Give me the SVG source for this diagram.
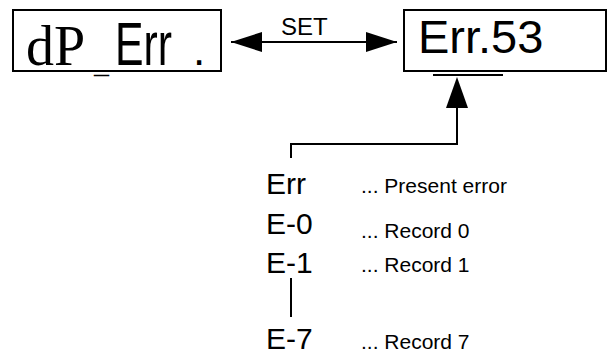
<svg xmlns="http://www.w3.org/2000/svg" width="610" height="354" viewBox="0 0 610 354">
<style>
.box{fill:#fff;stroke:#000;stroke-width:2}
.ln{fill:none;stroke:#000;stroke-width:2}
.sans{font-family:"Liberation Sans",Arial,sans-serif;fill:#000}
.serif{font-family:"Liberation Serif","Times New Roman",serif;fill:#000}
.big{font-size:30px}
.small{font-size:21px}
</style>
<defs>
<marker id="ah" viewBox="0 0 31 20" refX="31" refY="10" markerWidth="31" markerHeight="20" markerUnits="userSpaceOnUse" orient="auto-start-reverse">
<path d="M0,0 L31,10 L0,20 Z" fill="#000"/>
</marker>
</defs>
<g id="node-dp-err">
<rect class="box" x="13" y="10" width="208" height="61"/>
<text class="serif" x="26" y="65" font-size="56">dP</text>
<text class="serif" x="94" y="73" font-size="30">_</text>
<text class="sans" transform="translate(115,65) scale(0.69,1)" x="0" y="0" font-size="62">Err</text>
<text class="sans" x="193" y="65" font-size="44">.</text>
</g>
<g id="node-err53">
<rect class="box" x="404" y="10" width="202" height="61"/>
<text class="sans" x="418" y="53" font-size="47">Err.53</text>
<line class="ln" x1="433" y1="75" x2="503" y2="75"/>
</g>
<g id="connectors">
<line class="ln" x1="231" y1="42" x2="397" y2="42" marker-start="url(#ah)" marker-end="url(#ah)"/>
<text class="sans" x="281" y="35" font-size="24">SET</text>
<polyline class="ln" points="291,158 291,144 457,144 457,107"/>
<path d="M457,77 L446,108 L468,108 Z" fill="#000"/>
<line class="ln" x1="291" y1="278" x2="291" y2="317"/>
</g>
<g id="node-list">
<text class="sans big" x="266" y="194">Err</text>
<text class="sans big" x="266" y="234">E-0</text>
<text class="sans big" x="266" y="273">E-1</text>
<text class="sans big" x="266" y="349">E-7</text>
<text class="sans small" x="361" y="193">... Present error</text>
<text class="sans small" x="361" y="238">... Record 0</text>
<text class="sans small" x="361" y="272">... Record 1</text>
<text class="sans small" x="361" y="349">... Record 7</text>
</g>
</svg>
